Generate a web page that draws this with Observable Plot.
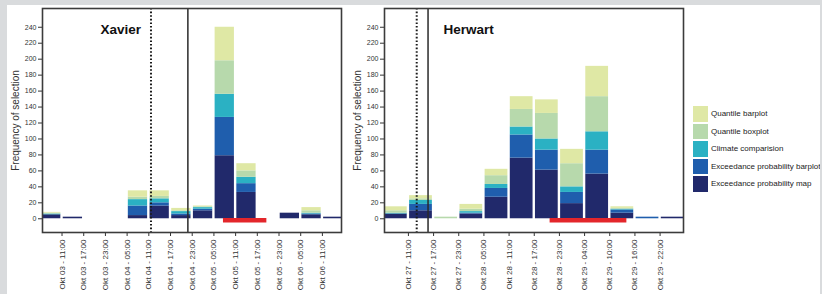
<!DOCTYPE html>
<html>
<head>
<meta charset="utf-8">
<script src="https://cdn.jsdelivr.net/npm/d3@7"></script>
<script src="https://cdn.jsdelivr.net/npm/@observablehq/plot@0.6"></script>
<style>
  html, body { margin: 0; padding: 0; }
  body { width: 822px; height: 294px; overflow: hidden; position: relative; background: #d9dbdd; font-family: "Liberation Sans", Arial, sans-serif; }
  #paper { position: absolute; left: 7px; top: 5px; width: 813px; height: 289px; background: #fff; }
  #xav { position: absolute; left: 0; top: 0; }
  #her { position: absolute; left: 342px; top: 0; }
  #legend { position: absolute; left: 693px; top: 106px; width: 127px; overflow: hidden; }
  .row { position: relative; height: 17.6px; white-space: nowrap; }
  .sw { position: absolute; left: 0; top: 0; width: 15px; height: 15.6px; }
  .lb { position: absolute; left: 18px; top: 0; line-height: 15.6px; font-size: 8px; color: #222; }
</style>
</head>
<body>
<div id="paper"></div>
<div id="xav"></div>
<div id="her"></div>
<div id="legend"></div>
<script>
// ---- data ----
const seriesNames = ["Exceedance probability map", "Exceedance probability barplot", "Climate comparision", "Quantile boxplot", "Quantile barplot"];
const seriesColors = ["#21296b", "#1f5ead", "#2bb1c3", "#b7d9ac", "#dfe8a5"];

const yTicks = [0, 20, 40, 60, 80, 100, 120, 140, 160, 180, 200, 220, 240];
const yTitle = "Frequency of selection";

const xavierLabels = ["Okt 03 - 11:00","Okt 03 - 17:00","Okt 03 - 23:00","Okt 04 - 05:00","Okt 04 - 11:00","Okt 04 - 17:00","Okt 04 - 23:00","Okt 05 - 05:00","Okt 05 - 11:00","Okt 05 - 17:00","Okt 05 - 23:00","Okt 06 - 05:00","Okt 06 - 11:00"];
const xavierMap      = [5, 2, 0, 0,  4, 16, 4, 10, 79, 33, 0, 7, 5, 2];
const xavierBarplot  = [0, 0, 0, 0, 12,  4, 2,  2, 48, 11, 0, 0, 1, 0];
const xavierClimate  = [1, 0, 0, 0,  8,  5, 3,  2, 29,  8, 0, 0, 1, 0];
const xavierBoxplot  = [1, 0, 0, 0,  3,  3, 1,  1, 42,  8, 0, 0, 3, 0];
const xavierQuantile = [1, 0, 0, 0,  8,  7, 3,  1, 42,  9, 0, 0, 4, 0];
const xavierMarkers = [5.1, 6.8];          // dotted, solid
const xavierEventSpan = [8.44, 10.44];

const herwartLabels = ["Okt 27 - 11:00","Okt 27 - 17:00","Okt 27 - 23:00","Okt 28 - 05:00","Okt 28 - 11:00","Okt 28 - 17:00","Okt 28 - 23:00","Okt 29 - 04:00","Okt 29 - 10:00","Okt 29 - 16:00","Okt 29 - 22:00"];
const herwartMap      = [6, 10, 0, 6, 27, 76, 61, 19, 56, 7, 0, 2];
const herwartBarplot  = [0,  8, 0, 1, 11, 29, 25, 14, 30, 4, 2, 0];
const herwartClimate  = [1,  5, 0, 2,  5, 10, 14,  7, 23, 1, 0, 0];
const herwartBoxplot  = [3,  2, 2, 3, 11, 22, 32, 29, 44, 1, 0, 0];
const herwartQuantile = [5,  4, 0, 6,  8, 16, 17, 18, 38, 2, 0, 0];
const herwartMarkers = [1.33, 1.78];
const herwartEventSpan = [6.63, 9.68];

const eventLevel = -2;

function panel(o) {
  const rows = [];
  o.values.forEach((arr, k) => arr.forEach((v, s) => rows.push({s, v, series: seriesNames[k]})));
  return Plot.plot({
    width: 350, height: 294,
    marginLeft: 42, marginRight: 9, marginTop: 8, marginBottom: 62,
    x: {type: "linear", domain: o.domain},
    y: {domain: [-17.2, 263.5]},
    color: {domain: seriesNames, range: seriesColors},
    style: {fontFamily: "'Liberation Sans', Arial, sans-serif", fontSize: "7px", color: "#333", background: "transparent", overflow: "visible"},
    marks: [
      Plot.rectY(rows, {x1: "s", x2: d => d.s + 1, y: "v", fill: "series", insetLeft: 1.2, insetRight: 1.2, clip: true}),
      Plot.ruleY([o.span], {x1: d => d[0], x2: d => d[1], y: () => eventLevel, stroke: "#e3262b", strokeWidth: 4.5}),
      Plot.ruleX([o.markers[0]], {stroke: "#1a1a1a", strokeWidth: 2, strokeDasharray: "1.6,2"}),
      Plot.ruleX([o.markers[1]], {stroke: "#2a2a2a", strokeWidth: 1.5}),
      Plot.axisY({ticks: yTicks, tickSize: 4, tickPadding: 2, label: null, fontSize: 7}),
      Plot.axisX({ticks: d3.range(1, o.labels.length + 1), tickFormat: i => o.labels[i - 1], tickRotate: -90, tickSize: 4, tickPadding: 3, label: null, fontSize: 8}),
      Plot.text([o.title], {frameAnchor: "top-left", dx: o.titleDx, dy: 16, lineAnchor: "top", textAnchor: "start", fontWeight: "bold", fontSize: 13.5, fill: "#111"}),
      Plot.text([yTitle], {frameAnchor: "left", rotate: -90, textAnchor: "middle", lineAnchor: "middle", dx: -27, fontSize: 10, fill: "#333"}),
      Plot.frame({stroke: "#3c3c3c", strokeWidth: 1.6})
    ]
  });
}

document.getElementById("xav").append(panel({
  title: "Xavier", titleDx: 58, labels: xavierLabels, domain: [0.1, 13.88],
  values: [xavierMap, xavierBarplot, xavierClimate, xavierBoxplot, xavierQuantile],
  markers: xavierMarkers, span: xavierEventSpan
}));
document.getElementById("her").append(panel({
  title: "Herwart", titleDx: 59, labels: herwartLabels, domain: [0.05, 11.93],
  values: [herwartMap, herwartBarplot, herwartClimate, herwartBoxplot, herwartQuantile],
  markers: herwartMarkers, span: herwartEventSpan
}));

// legend (top to bottom: reverse of stacking order)
const legend = document.getElementById("legend");
for (let k = seriesNames.length - 1; k >= 0; k--) {
  const row = document.createElement("div");
  row.className = "row";
  const sw = document.createElement("div");
  sw.className = "sw";
  sw.style.background = seriesColors[k];
  const lb = document.createElement("div");
  lb.className = "lb";
  lb.textContent = seriesNames[k];
  row.append(sw, lb);
  legend.append(row);
}
</script>
</body>
</html>
